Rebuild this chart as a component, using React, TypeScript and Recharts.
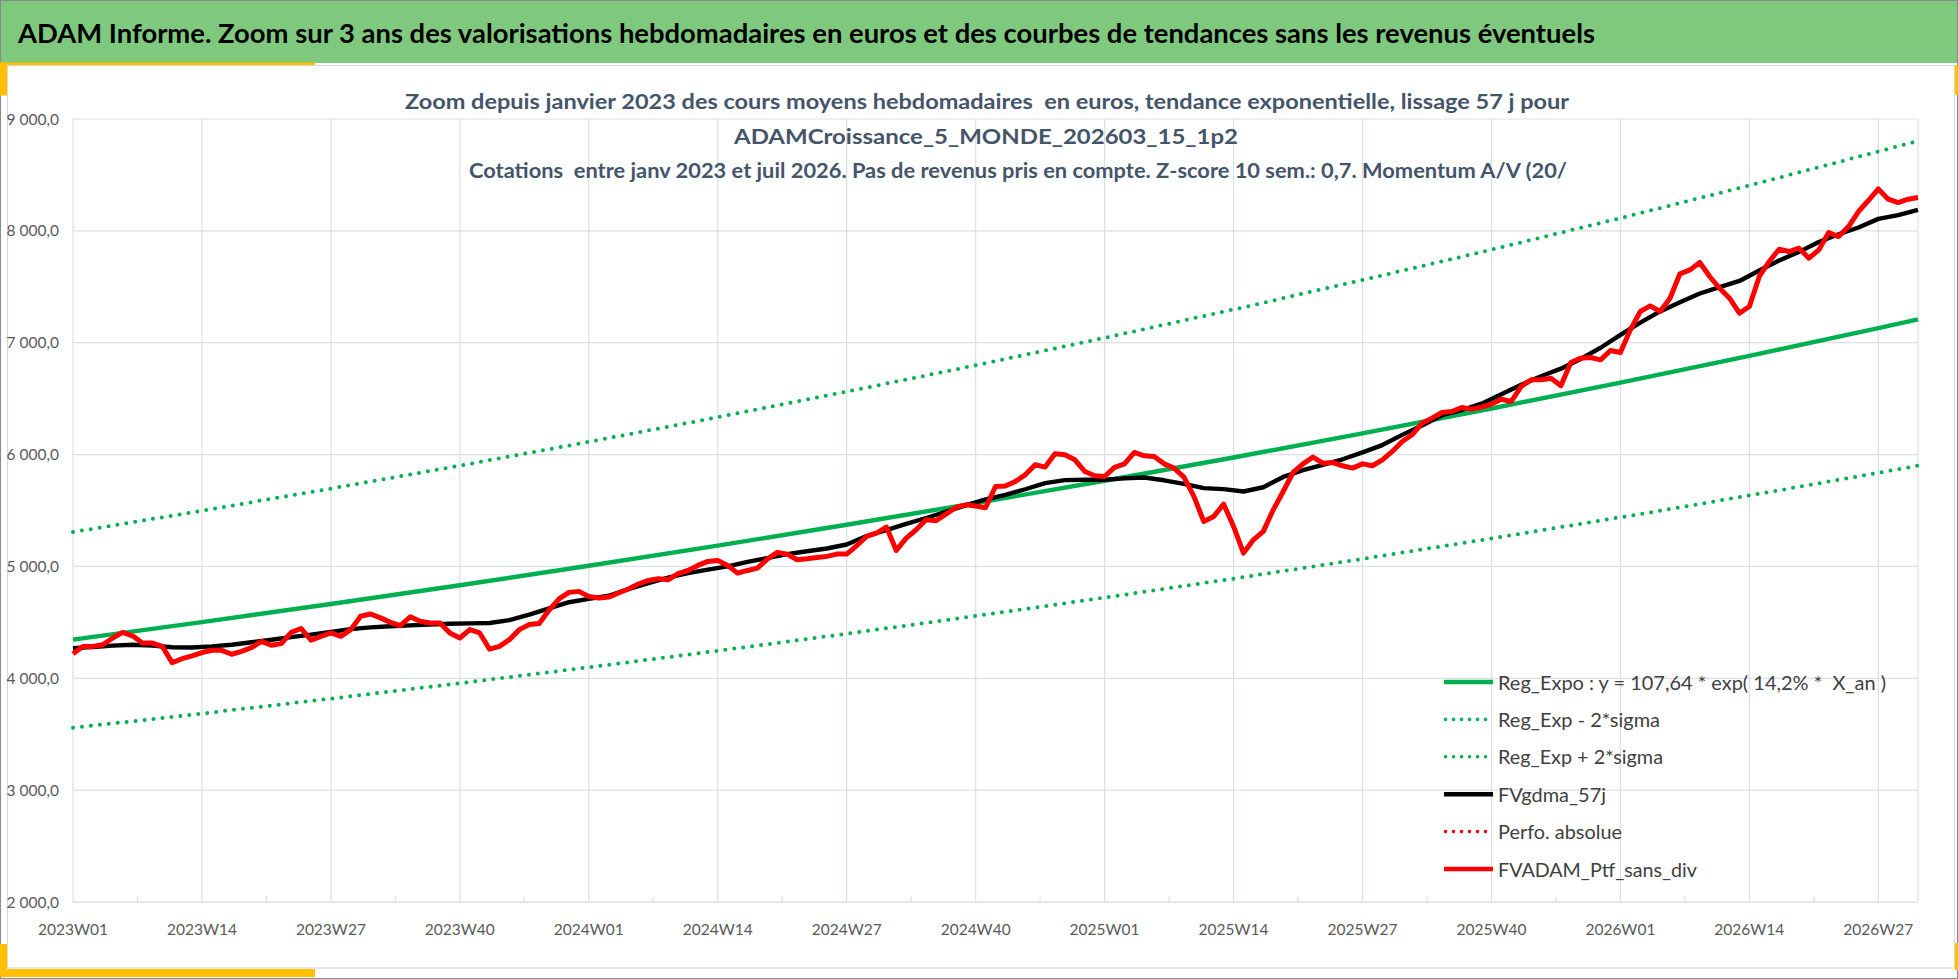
import React from 'react';
import { LineChart, Line, XAxis, YAxis, CartesianGrid, ReferenceLine, Legend } from 'recharts';

// ---------- categories ----------
const years = [2023, 2024, 2025, 2026];
const weeksPerYear = [52, 52, 52, 31];
const weekLabels: string[] = [];
years.forEach((y, k) => {
  for (let w = 1; w <= weeksPerYear[k]; w++) weekLabels.push(`${y}W${String(w).padStart(2, '0')}`);
});

const xTicks = [0, 13, 26, 39, 52, 65, 78, 91, 104, 117, 130, 143, 156, 169, 182];
const minorTicks = [6.5, 19.5, 32.5, 45.5, 58.5, 71.5, 84.5, 97.5, 110.5, 123.5, 136.5, 149.5, 162.5, 175.5];
const yTicks = [2000, 3000, 4000, 5000, 6000, 7000, 8000, 9000];

// ---------- series values ----------
// FVADAM_Ptf_sans_div : weekly values
const ptfValues = [
  4220, 4285, 4285, 4300, 4360, 4410, 4380, 4315, 4315, 4285, 4140, 4175, 4200,
  4230, 4250, 4250, 4215, 4240, 4275, 4330, 4295, 4310, 4410, 4445, 4340, 4375,
  4405, 4375, 4435, 4555, 4575, 4540, 4500, 4470, 4550, 4510, 4495, 4495, 4405,
  4360, 4435, 4405, 4260, 4285, 4345, 4435, 4480, 4490, 4610, 4710, 4768, 4777,
  4732, 4717, 4726, 4762, 4798, 4843, 4875, 4890, 4881, 4935, 4964, 5009, 5045,
  5054, 5009, 4940, 4964, 4985, 5066, 5125, 5110, 5060, 5069, 5080, 5090, 5110,
  5110, 5185, 5268, 5298, 5352, 5143, 5253, 5328, 5417, 5408, 5468, 5527, 5551,
  5540, 5525, 5715, 5718, 5760, 5819, 5909, 5888, 6007, 5998, 5953, 5849, 5810,
  5804, 5885, 5917, 6019, 5989, 5983, 5917, 5879, 5798, 5626, 5402, 5447, 5557,
  5357, 5119, 5238, 5313, 5506, 5670, 5840, 5917, 5977, 5923, 5929, 5900, 5879,
  5917, 5900, 5953, 6028, 6117, 6177, 6281, 6326, 6376, 6385, 6421, 6406, 6424,
  6451, 6495, 6475, 6609, 6668, 6668, 6683, 6615, 6823, 6862, 6868, 6847, 6930,
  6912, 7115, 7279, 7329, 7279, 7398, 7616, 7651, 7717, 7592, 7487, 7398, 7264,
  7324, 7592, 7726, 7836, 7815, 7845, 7756, 7830, 7985, 7949, 8038, 8173, 8271,
  8375, 8283, 8253, 8283, 8298,
];

// FVgdma_57j : read every second week
const maValues = [
  4270, 4280, 4292, 4300, 4292, 4278, 4275, 4285, 4300, 4322, 4345, 4368, 4390, 4415,
  4440, 4455, 4465, 4473, 4481, 4487, 4491, 4494, 4520, 4570, 4625, 4680, 4710, 4738,
  4798, 4850, 4900, 4940, 4972, 5001, 5040, 5075, 5110, 5136, 5160, 5196, 5272, 5325,
  5380, 5433, 5489, 5546, 5600, 5640, 5690, 5745, 5772, 5775, 5775, 5787, 5795, 5770,
  5738, 5700, 5691, 5670, 5708, 5800, 5860, 5908, 5958, 6020, 6085, 6176, 6260, 6352,
  6398, 6455, 6540, 6625, 6700, 6768, 6855, 6955, 7070, 7180, 7280, 7362, 7440, 7497,
  7552, 7645, 7735, 7812, 7900, 7970, 8030, 8107, 8140, 8188,
];

// trend curves read at these week indexes
const trendWeeks = [0, 13, 26, 39, 52, 65, 78, 91, 104, 117, 130, 143, 156, 169, 182, 186];
const regExpo = [4345, 4502, 4664, 4832, 5006, 5186, 5373, 5566, 5766, 5974, 6189, 6412, 6643, 6882, 7130, 7208];
const regUpper = [5307, 5498, 5696, 5901, 6114, 6334, 6562, 6798, 7043, 7297, 7560, 7832, 8114, 8406, 8709, 8804];
const regLower = [3557, 3685, 3818, 3956, 4098, 4246, 4398, 4557, 4721, 4891, 5067, 5250, 5439, 5634, 5837, 5901];

const data = weekLabels.map((label, i) => {
  const t = trendWeeks.indexOf(i);
  return {
    idx: i,
    label,
    reg: t >= 0 ? regExpo[t] : null,
    lo: t >= 0 ? regLower[t] : null,
    hi: t >= 0 ? regUpper[t] : null,
    ma: i % 2 === 0 ? maValues[i / 2] : null,
    perf: null as number | null,
    ptf: ptfValues[i],
  };
});

// ---------- styles ----------
const FONT = 'Lato, "Open Sans", "DejaVu Sans", sans-serif';
const GREEN = '#00B050';
const RED = '#FF0000';
const GRID = '#DCDFE5';
const YELLOW = '#FFC000';

const legendRows = [
  { key: 'reg', label: 'Reg_Expo : y = 107,64 * exp( 14,2% *  X_an )', color: GREEN, dotted: false, len: 388 },
  { key: 'lo', label: 'Reg_Exp - 2*sigma', color: GREEN, dotted: true, len: 162 },
  { key: 'hi', label: 'Reg_Exp + 2*sigma', color: GREEN, dotted: true, len: 165 },
  { key: 'ma', label: 'FVgdma_57j', color: '#000000', dotted: false, len: 108 },
  { key: 'perf', label: 'Perfo. absolue', color: RED, dotted: true, len: 124 },
  { key: 'ptf', label: 'FVADAM_Ptf_sans_div', color: RED, dotted: false, len: 199 },
];

const renderLegend = () => (
  <svg width={480} height={230} style={{ display: 'block' }}>
    {legendRows.map((r, k) => {
      const cy = 22 + k * 37.4;
      return (
        <g key={r.key}>
          {r.dotted ? (
            <line x1={15.5} x2={63.5} y1={cy} y2={cy} stroke={r.color} strokeWidth={3.6}
              strokeDasharray="0 8" strokeLinecap="round" />
          ) : (
            <line x1={14} x2={63} y1={cy} y2={cy} stroke={r.color} strokeWidth={4.6} />
          )}
          <text x={68} y={cy + 7.6} fontFamily={FONT} fontSize={19} fill="#404040"
            textLength={r.len} lengthAdjust="spacingAndGlyphs" style={{ whiteSpace: 'pre' }}>
            {r.label}
          </text>
        </g>
      );
    })}
  </svg>
);

const yFmt = (v: number) => `${v / 1000} 000,0`;
const xFmt = (v: number) => weekLabels[v] ?? '';

export default function App() {
  return (
    <div style={{ position: 'absolute', left: 0, top: 0, width: 1958, height: 979, background: '#FFFFFF', overflow: 'hidden' }}>
      {/* background decorations */}
      <svg width={1958} height={979} style={{ position: 'absolute', left: 0, top: 0 }}>
        <rect x={0} y={0} width={1958} height={979} fill="#FFFFFF" />
        <rect x={0} y={0} width={1958} height={63} fill="#7FC97F" />
        <rect x={7.5} y={65.5} width={1947} height={902.5} fill="none" stroke="#D9D9D9" strokeWidth={1.2} />
        <rect x={0.5} y={0.5} width={1957} height={978} fill="none" stroke="#8A8A8A" strokeWidth={1} />
        {/* yellow accents */}
        <rect x={0} y={62.5} width={315} height={2.6} fill={YELLOW} />
        <rect x={0} y={62.5} width={7} height={33} fill={YELLOW} />
        <rect x={0} y={944} width={7} height={33} fill={YELLOW} />
        <rect x={0} y={969} width={315} height={8} fill={YELLOW} />
        <rect x={1955} y={65} width={3} height={30} fill={YELLOW} />
        <rect x={1955} y={943} width={3} height={27} fill={YELLOW} />
      </svg>

      <div style={{ position: 'absolute', left: 0, top: 0 }}>
        <LineChart width={1958} height={979} data={data} margin={{ top: 119, right: 40, bottom: 0, left: 0 }}>
          <CartesianGrid stroke={GRID} strokeWidth={1.2} />
          <XAxis
            xAxisId={0}
            type="number"
            dataKey="idx"
            domain={[0, 186]}
            ticks={xTicks}
            interval={0}
            tickFormatter={xFmt}
            height={77}
            tickSize={0}
            tickMargin={22}
            axisLine={{ stroke: GRID, strokeWidth: 1.2 }}
            tick={{ fontFamily: FONT, fontSize: 15.5, fill: '#595959' }}
          />
          <YAxis
            yAxisId={0}
            type="number"
            domain={[2000, 9000]}
            ticks={yTicks}
            interval={0}
            tickFormatter={yFmt}
            width={73}
            tickSize={0}
            tickMargin={14}
            axisLine={false}
            tick={{ fontFamily: FONT, fontSize: 15.5, fill: '#595959' }}
          />
          {minorTicks.map((m) => (
            <ReferenceLine key={m} segment={[{ x: m, y: 2000 }, { x: m, y: 2050 }]} stroke={GRID} strokeWidth={1.2} />
          ))}
          <Legend layout="vertical" align="center" verticalAlign="middle" content={renderLegend}
            wrapperStyle={{ left: 1430, top: 660, width: 480, height: 230 }} />
          <Line name="Reg_Expo : y = 107,64 * exp( 14,2% *  X_an )" dataKey="reg" type="linear" stroke={GREEN}
            strokeWidth={4.4} dot={false} activeDot={false} connectNulls isAnimationActive={false} />
          <Line name="Reg_Exp - 2*sigma" dataKey="lo" type="linear" stroke={GREEN} strokeWidth={4}
            strokeDasharray="0 9" strokeLinecap="round" dot={false} activeDot={false} connectNulls isAnimationActive={false} />
          <Line name="Reg_Exp + 2*sigma" dataKey="hi" type="linear" stroke={GREEN} strokeWidth={4}
            strokeDasharray="0 9" strokeLinecap="round" dot={false} activeDot={false} connectNulls isAnimationActive={false} />
          <Line name="FVgdma_57j" dataKey="ma" type="linear" stroke="#000000" strokeWidth={4.4}
            strokeLinejoin="round" dot={false} activeDot={false} connectNulls isAnimationActive={false} />
          <Line name="Perfo. absolue" dataKey="perf" type="linear" stroke={RED} strokeWidth={3.6}
            strokeDasharray="0 8" strokeLinecap="round" dot={false} activeDot={false} isAnimationActive={false} />
          <Line name="FVADAM_Ptf_sans_div" dataKey="ptf" type="linear" stroke={RED} strokeWidth={5}
            strokeLinejoin="round" dot={false} activeDot={false} isAnimationActive={false} />
        </LineChart>
      </div>

      {/* titles */}
      <svg width={1958} height={979} style={{ position: 'absolute', left: 0, top: 0, pointerEvents: 'none' }}>
        <text x={18} y={43.3} fontFamily={FONT} fontWeight={700} fontSize={27} fill="#000000"
          textLength={1577} lengthAdjust="spacingAndGlyphs">
          ADAM Informe. Zoom sur 3 ans des valorisations hebdomadaires en euros et des courbes de tendances sans les revenus éventuels
        </text>
        <text x={405} y={109} fontFamily={FONT} fontWeight={700} fontSize={20.5} fill="#44546A"
          textLength={1164} lengthAdjust="spacingAndGlyphs" style={{ whiteSpace: 'pre' }}>
          {'Zoom depuis janvier 2023 des cours moyens hebdomadaires  en euros, tendance exponentielle, lissage 57 j pour'}
        </text>
        <text x={734} y={143.5} fontFamily={FONT} fontWeight={700} fontSize={20.5} fill="#44546A"
          textLength={504} lengthAdjust="spacingAndGlyphs">
          ADAMCroissance_5_MONDE_202603_15_1p2
        </text>
        <text x={469} y={178} fontFamily={FONT} fontWeight={700} fontSize={20.5} fill="#44546A"
          textLength={1098} lengthAdjust="spacingAndGlyphs" style={{ whiteSpace: 'pre' }}>
          {'Cotations  entre janv 2023 et juil 2026. Pas de revenus pris en compte. Z-score 10 sem.: 0,7. Momentum A/V (20/'}
        </text>
      </svg>
    </div>
  );
}
